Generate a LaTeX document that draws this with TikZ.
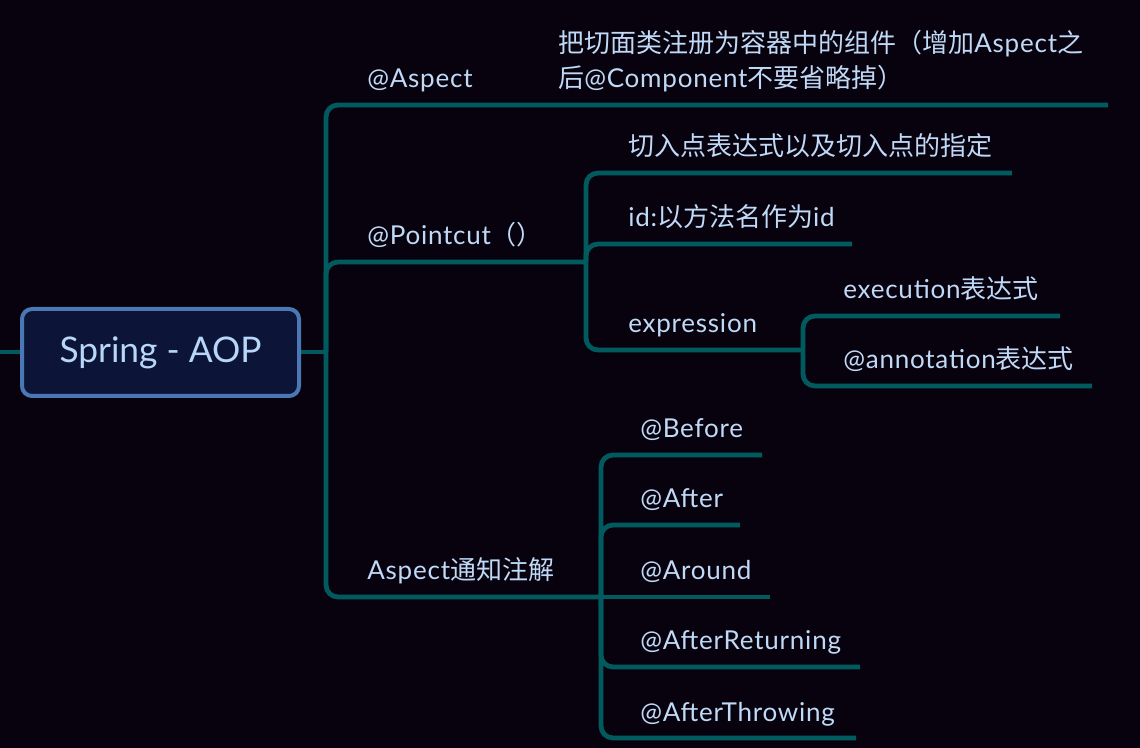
\documentclass[tikz,border=0pt]{standalone}
\usepackage{fontspec}
\setmainfont{Lato}
\newfontfamily\lblfont{Lato}[LetterSpace=3]
\newfontfamily\cjk{Noto Sans CJK SC}
\definecolor{bg}{HTML}{08020E}
\definecolor{teal}{HTML}{005A5E}
\definecolor{txt}{HTML}{BFD9F6}
\definecolor{rootfill}{HTML}{0C1538}
\definecolor{rootborder}{HTML}{4A78B4}
\definecolor{roottxt}{HTML}{B8D6FA}
\begin{document}
\begin{tikzpicture}[x=0.75pt,y=-0.75pt,
  conn/.style={draw=teal,line width=3.6pt,rounded corners=9pt},
  lbl/.style={anchor=base west,inner sep=0pt,text=txt,font=\lblfont\fontsize{19.5pt}{23pt}\selectfont},
  rootbox/.style={draw=rootborder,fill=rootfill,line width=3pt,rounded corners=7.5pt,
    minimum width=207.75pt,minimum height=65.25pt}]
\fill[bg] (0,0) rectangle (1140,748);
\useasboundingbox (0,0) rectangle (1140,748);

% junction coordinates
\coordinate (lstub) at (0,352);
\coordinate (j0) at (326,352);
\coordinate (aspectEnd) at (1108,105);
\coordinate (pcEnd) at (586,262);
\coordinate (c1End) at (1012,173);
\coordinate (c2End) at (852,244);
\coordinate (exEnd) at (803,350);
\coordinate (execEnd) at (1060,316);
\coordinate (annEnd) at (1092,386);
\coordinate (advEnd) at (601,597);
\coordinate (bEnd) at (762,455);
\coordinate (aEnd) at (740,525);
\coordinate (arEnd) at (770,597);
\coordinate (arrEnd) at (860,667);
\coordinate (atEnd) at (856,738);

% connectors
\draw[conn] (lstub) -- (22,352);
\draw[conn] (299,352) -- (j0);
\draw[conn] (j0) |- (aspectEnd);
\draw[conn] (j0) |- (pcEnd);
\draw[conn] (j0) |- (advEnd);
\draw[conn] (pcEnd) |- (c1End);
\draw[conn] (pcEnd) |- (c2End);
\draw[conn] (pcEnd) |- (exEnd);
\draw[conn] (exEnd) |- (execEnd);
\draw[conn] (exEnd) |- (annEnd);
\draw[conn] (advEnd) |- (bEnd);
\draw[conn] (advEnd) |- (aEnd);
\draw[conn] (advEnd) -- (arEnd);
\draw[conn] (advEnd) |- (arrEnd);
\draw[conn] (advEnd) |- (atEnd);

% root
\node[rootbox] (root) at (160.5,352.5) {};
\node[anchor=base,inner sep=0pt,text=roottxt,font=\fontsize{26.5pt}{30pt}\selectfont] (roottext) at (160.5,363) {Spring - AOP};

% labels
\node[lbl] (aspect) at (367,88) {@Aspect};
\node[lbl] (aspectNote1) at (558,53) {{\cjk 把切面类注册为容器中的组件（增加}Aspect{\cjk 之}};
\node[lbl] (aspectNote2) at (558,88) {{\cjk 后}@Component{\cjk 不要省略掉）}};
\node[lbl] (pointcut) at (367,245) {@Pointcut{\cjk （）}};
\node[lbl] (pc1) at (628,156) {\cjk 切入点表达式以及切入点的指定};
\node[lbl] (pc2) at (628,227) {id:{\cjk 以方法名作为}id};
\node[lbl] (expr) at (628,333) {expression};
\node[lbl] (exec) at (843,299) {execution{\cjk 表达式}};
\node[lbl] (anno) at (843,369) {@annotation{\cjk 表达式}};
\node[lbl] (advice) at (367,580) {Aspect{\cjk 通知注解}};
\node[lbl] (before) at (640,438) {@Before};
\node[lbl] (after) at (640,508) {@After};
\node[lbl] (around) at (640,580) {@Around};
\node[lbl] (areturn) at (640,650) {@AfterReturning};
\node[lbl] (athrow) at (640,721) {@AfterThrowing};
\end{tikzpicture}
\end{document}
